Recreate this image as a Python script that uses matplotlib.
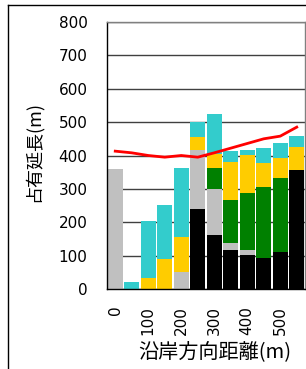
import matplotlib
matplotlib.use("Agg")
import matplotlib.pyplot as plt
from matplotlib.lines import Line2D
import numpy as np

plt.rcParams['font.family'] = ['DejaVu Sans', 'Noto Sans CJK JP']

distance = [0, 50, 100, 150, 200, 250, 300, 350, 400, 450, 500, 550]
black = [0, 0, 0, 0, 0, 240, 162, 117, 102, 93, 111, 357]
gray = [360, 0, 0, 0, 52, 177, 138, 21, 15, 0, 0, 0]
green = [0, 0, 0, 0, 0, 0, 63, 129, 170, 212, 222, 0]
yellow = [0, 0, 34, 90, 105, 39, 40, 114, 114, 72, 60, 68]
cyan = [0, 22, 169, 161, 206, 44, 121, 32, 16, 45, 45, 33]
red_line = [413, 408, 400, 395, 400, 395, 408, 422, 436, 450, 458, 485]
yticks = [0, 100, 200, 300, 400, 500, 600, 700, 800]
xticks = [0, 100, 200, 300, 400, 500]

W, H = 306, 369
fig = plt.figure(figsize=(W / 100, H / 100), dpi=100)
ax = fig.add_axes([107 / W, 1 - 289 / H, (305 - 107) / W, (289 - 22) / H])

x = np.array(distance)
series = [(black, '#000000'), (gray, '#C0C0C0'), (green, '#008000'),
          (yellow, '#FFCC00'), (cyan, '#33CCCC')]
bottom = np.zeros(len(x))
for vals, col in series:
    v = np.array(vals, dtype=float)
    ax.bar(x, v, width=45, bottom=bottom, color=col, linewidth=0, zorder=2)
    bottom += v

ax.plot(x, red_line, color='#FF0000', linewidth=2.0, zorder=3)

ax.set_xlim(-25, 575)
ax.set_ylim(0, 800)
ax.set_yticks(yticks)
ax.set_xticks(xticks)
ax.set_xticklabels([str(t) for t in xticks], rotation=90)
ax.tick_params(axis='both', length=0, labelsize=11)
ax.tick_params(axis='y', pad=14)
ax.tick_params(axis='x', pad=12)
ax.yaxis.grid(True, color='#404040', linewidth=1.0, zorder=0)
ax.set_axisbelow(True)
for s in ['left', 'bottom']:
    ax.spines[s].set_color('#000000')
    ax.spines[s].set_linewidth(1.0)
for s in ['top', 'right']:
    ax.spines[s].set_color('#808080')
    ax.spines[s].set_linewidth(1.0)

fig.text(33 / W, 1 - 152 / H, '占有延長(m)', rotation=90, ha='center', va='center',
         fontsize=13, family=['Noto Sans CJK JP', 'DejaVu Sans'])
fig.text(215 / W, 1 - 353 / H, '沿岸方向距離(m)', ha='center', va='center',
         fontsize=14.5, family=['Noto Sans CJK JP', 'DejaVu Sans'])

# figure frame
fig.add_artist(Line2D([8 / W, 8 / W], [0, 1 - 5 / H], transform=fig.transFigure,
                      color='#000000', linewidth=1.0))
fig.add_artist(Line2D([8 / W, 1], [1 - 5 / H, 1 - 5 / H], transform=fig.transFigure,
                      color='#000000', linewidth=1.0))

fig.savefig('out.png', dpi=100)
